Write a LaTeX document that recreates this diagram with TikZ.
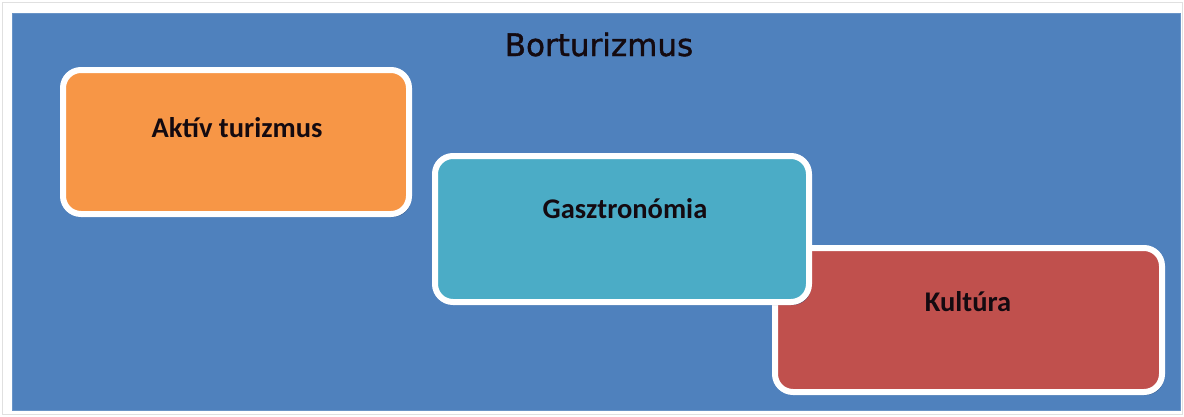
\documentclass[tikz,border=0pt]{standalone}
\usepackage{fontspec}
\setmainfont{Carlito}
\newfontfamily\titlefont[FakeBold=1.2]{DejaVu Sans}
\usetikzlibrary{shadows}
\definecolor{bgblue}{HTML}{4F81BD}
\definecolor{orangefill}{HTML}{F79646}
\definecolor{tealfill}{HTML}{4BACC6}
\definecolor{redfill}{HTML}{C0504D}
\definecolor{shadowcol}{HTML}{2F4F7A}
\definecolor{textdark}{HTML}{140A10}
\begin{document}
\begin{tikzpicture}[x=1pt,y=-1pt,
  card/.style={draw=white, line width=6pt, rounded corners=18pt,
    inner sep=0pt, drop shadow={shadow xshift=2pt, shadow yshift=-3pt, fill=shadowcol, opacity=0.6}},
  cardtext/.style={anchor=base, font=\bfseries\fontsize{28.5}{32}\selectfont, text=textdark}]
\useasboundingbox (0,0) rectangle (1184,416);
\fill[white] (0,0) rectangle (1184,416);
\draw[black!12, line width=1pt] (2,2) rectangle (1182,414);
\node[fill=bgblue, draw=bgblue!85!white, line width=1pt, minimum width=1168pt, minimum height=397pt, inner sep=0pt] (bg) at (596,211.5) {};
\node[anchor=base, font=\titlefont\fontsize{31}{36}\selectfont, text=textdark] (title) at (599,56) {Borturizmus};
\node[card, fill=orangefill, minimum width=346pt, minimum height=144pt] (aktiv) at (236,142) {};
\node[cardtext] (aktivtext) at (237,137) {Aktív turizmus};
\node[card, fill=redfill, minimum width=387pt, minimum height=144pt] (kultura) at (968.5,320) {};
\node[cardtext] (kulturatext) at (968,311) {Kultúra};
\node[card, fill=tealfill, minimum width=374pt, minimum height=146pt] (gasztro) at (622,229) {};
\node[cardtext] (gasztrotext) at (625,218) {Gasztronómia};
\end{tikzpicture}
\end{document}
